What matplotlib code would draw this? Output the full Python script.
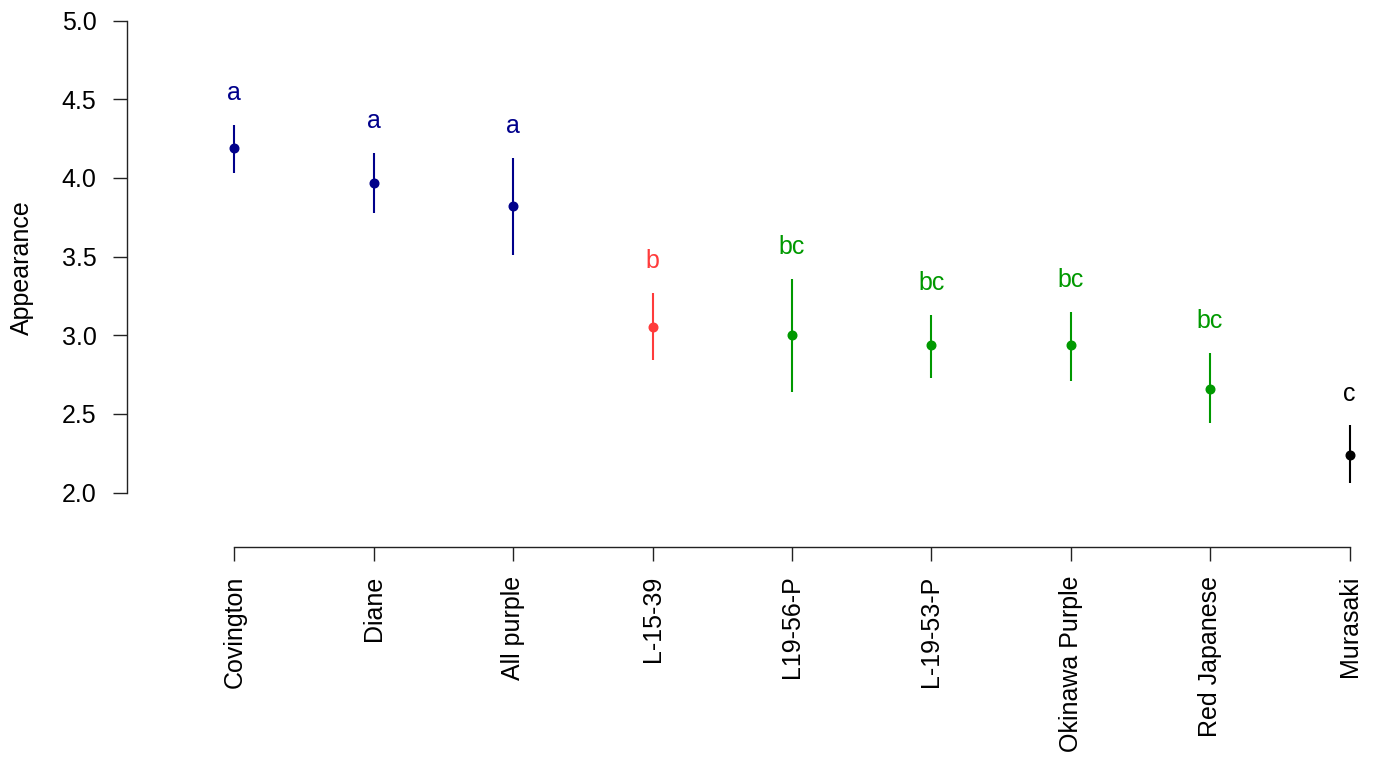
import matplotlib
matplotlib.use("Agg")
import matplotlib.pyplot as plt
from matplotlib.ticker import FormatStrFormatter

plt.rcParams['font.family'] = ['Liberation Sans', 'DejaVu Sans']

# cultivar means with lower / upper interval ends
cultivars = ["Covington", "Diane", "All purple", "L-15-39", "L19-56-P",
             "L-19-53-P", "Okinawa Purple", "Red Japanese", "Murasaki"]
means = [4.19, 3.97, 3.82, 3.05, 3.00, 2.94, 2.94, 2.66, 2.24]
lower = [4.03, 3.78, 3.51, 2.84, 2.64, 2.73, 2.71, 2.44, 2.06]
upper = [4.34, 4.16, 4.13, 3.27, 3.36, 3.13, 3.15, 2.89, 2.43]
groups = ["a", "a", "a", "b", "bc", "bc", "bc", "bc", "c"]
yticks = [2.0, 2.5, 3.0, 3.5, 4.0, 4.5, 5.0]

group_colors = {"a": "#00008B", "b": "#FF3B3B", "bc": "#009900", "c": "#000000"}

fig = plt.figure(figsize=(13.73, 7.58), dpi=100)
ax = fig.add_axes([127 / 1373, 1 - 546.5 / 758, (1360 - 127) / 1373, (546.5 - 20.7) / 758])

xs = list(range(1, len(cultivars) + 1))
for x, m, lo, hi, g in zip(xs, means, lower, upper, groups):
    col = group_colors[g]
    ax.plot([x, x], [lo, hi], color=col, lw=1.5, solid_capstyle='butt')
    ax.plot(x, m, 'o', color=col, ms=6.2)
    ax.text(x, hi + 0.155, g, color=col, fontsize=18, ha='center', va='baseline')

ax.set_xlim(0.2303, 9.075)
ax.set_ylim(1.657, 5.0)

for side in ['top', 'right']:
    ax.spines[side].set_visible(False)
ax.spines['left'].set_bounds(2.0, 5.0)
ax.spines['bottom'].set_bounds(1, 9)
for side in ['left', 'bottom']:
    ax.spines[side].set_linewidth(1.0)
    ax.spines[side].set_color('#222222')

ax.set_yticks(yticks)
ax.yaxis.set_major_formatter(FormatStrFormatter('%.1f'))
ax.set_xticks(xs)
ax.set_xticklabels(cultivars, rotation=90)
ax.tick_params(axis='y', length=10, width=1.0, pad=12, labelsize=18, color='#222222')
ax.tick_params(axis='x', length=10, width=1.0, pad=11, labelsize=18, color='#222222')

ax.set_ylabel("Appearance", fontsize=18, va='center')
ax.yaxis.set_label_coords(22 / 1373, 1 - 268 / 758, transform=fig.transFigure)

fig.savefig("out.png", dpi=100)
